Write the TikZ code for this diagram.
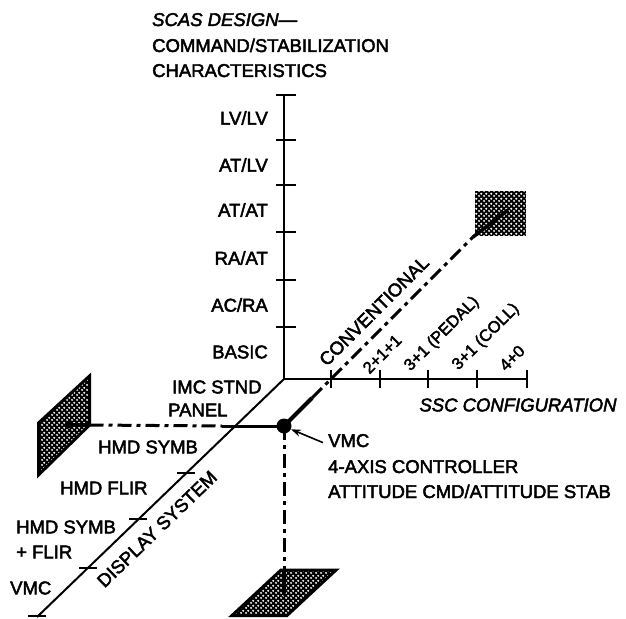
\documentclass[tikz,border=0pt]{standalone}
\usepackage{fontspec}
\setmainfont{Liberation Sans}[UprightFeatures={FakeBold=2.5}, ItalicFeatures={FakeBold=2.5}]
\usetikzlibrary{arrows.meta,patterns}
\pgfdeclarepatternformonly{halftone}{\pgfqpoint{0pt}{0pt}}{\pgfqpoint{4.6pt}{4.6pt}}{\pgfqpoint{4.6pt}{4.6pt}}{%
  \pgfpathcircle{\pgfqpoint{1.15pt}{1.15pt}}{1.15pt}%
  \pgfpathcircle{\pgfqpoint{3.45pt}{3.45pt}}{1.15pt}%
  \pgfusepath{fill}}
\begin{document}
\begin{tikzpicture}[x=1pt,y=-1pt,
  lab/.style={inner sep=0pt, font=\fontsize{18.5}{25}\selectfont},
  smalllab/.style={inner sep=0pt, font=\fontsize{16.5}{20}\selectfont},
  axisline/.style={line width=2.4pt},
  depthline/.style={line width=2pt},
  tickmark/.style={line width=2pt},
  ddash/.style={line width=3pt, dash pattern=on 14pt off 5pt on 4pt off 5pt},
  solidseg/.style={line width=4pt},
  intip/.style={line width=3.5pt, -{Triangle[length=8pt,width=6.5pt]}},
  hatchbox/.style={line width=3pt, line join=miter, preaction={fill=black}, preaction={pattern=halftone, pattern color=white}}
]
\useasboundingbox (0,0) rectangle (626,618);

% coordinates
\coordinate (O) at (284,379);
\coordinate (vtop) at (284,95);
\coordinate (xend) at (527,379);
\coordinate (dend) at (37,617);
\coordinate (conv) at (331,379);

% axes
\draw[axisline] (vtop) -- (O) -- (xend);
\draw[depthline] (O) -- (dend);

% vertical ticks
\foreach \yy in {95,140,185,232,280,327}
  \draw[tickmark] (276,\yy) -- (296,\yy);
% horizontal ticks
\foreach \xx in {331,380,428,477,527}
  \draw[tickmark] (\xx,370) -- (\xx,388);
% depth ticks
\foreach \px/\py in {233/427,186/473,138/519,88/568,37/616}
  \draw[tickmark] (\px-9,\py) -- (\px+9,\py);

% boxes
\node[hatchbox, minimum width=51pt, minimum height=45pt, inner sep=0pt] (boxTR) at (500,213) {};
\coordinate (L1) at (89.5,376);
\coordinate (L2) at (89.5,425);
\coordinate (L3) at (38.5,475);
\coordinate (L4) at (38.5,423);
\draw[hatchbox] (L1) -- (L2) -- (L3) -- (L4) -- cycle;
\coordinate (B1) at (281,570);
\coordinate (B2) at (336,570);
\coordinate (B3) at (287,615.5);
\coordinate (B4) at (232,615.5);
\draw[hatchbox] (B1) -- (B2) -- (B3) -- (B4) -- cycle;

% VMC dot
\node[circle, fill=black, minimum size=15pt, inner sep=0pt] (dot) at (284,426) {};

% dash-dot connectors
\coordinate (hsolid) at (222,426);
\coordinate (dsolid) at (312,398);
\coordinate (vbox) at (284,570);
\coordinate (Ltip) at (62,425);
\coordinate (TRtip) at (508,210);
\coordinate (Btip) at (284,597);
\draw[ddash] (L2) -- (hsolid);
\draw[line width=3pt] (hsolid) -- (dot.center);
\draw[intip] (L2) -- (Ltip);
\draw[solidseg] (dot.center) -- (dsolid);
\draw[ddash] (dsolid) -- (boxTR.south west);
\draw[line width=3.5pt] (boxTR.south west) -- (TRtip);
\draw[ddash] (dot.center) -- (vbox);
\draw[intip] (vbox) -- (Btip);

% title
\node[lab, anchor=base west] (t1) at (152,26) {\itshape SCAS DESIGN—};
\node[lab, anchor=base west] (t2) at (152,52) {COMMAND/STABILIZATION};
\node[lab, anchor=base west] (t3) at (152,77) {CHARACTERISTICS};

% vertical axis labels
\node[lab, anchor=east] (v1) at (268,118) {LV/LV};
\node[lab, anchor=east] (v2) at (268,165) {AT/LV};
\node[lab, anchor=east] (v3) at (268,210) {AT/AT};
\node[lab, anchor=east] (v4) at (268,258) {RA/AT};
\node[lab, anchor=east] (v5) at (268,305) {AC/RA};
\node[lab, anchor=east] (v6) at (268,352) {BASIC};

% horizontal axis labels
\node[lab, rotate=45] (conl) at (374,311) {CONVENTIONAL};
\node[smalllab, rotate=45] (h1) at (382,354) {2+1+1};
\node[smalllab, rotate=45] (h2) at (442,334) {3+1 (PEDAL)};
\node[smalllab, rotate=45] (h3) at (486,337) {3+1 (COLL)};
\node[smalllab, rotate=45] (h4) at (512,358) {4+0};
\node[lab] (ssc) at (518,405) {\itshape SSC CONFIGURATION};

% depth axis labels
\node[lab, anchor=west] (d1a) at (172,387) {IMC STND};
\node[lab, anchor=west] (d1b) at (168,410) {PANEL};
\node[lab, anchor=west] (d2) at (98,447) {HMD SYMB};
\node[lab, anchor=west] (d3) at (60,488) {HMD FLIR};
\node[lab, anchor=west] (d4a) at (16,527) {HMD SYMB};
\node[lab, anchor=west] (d4b) at (16,552) {+ FLIR};
\node[lab, anchor=west] (d5) at (10,588) {VMC};
\node[lab, rotate=44] (disp) at (157,529) {DISPLAY SYSTEM};

% VMC annotation
\node[lab, anchor=base west] (vmc1) at (328,447) {VMC};
\node[lab, anchor=base west] (vmc2) at (328,473) {4-AXIS CONTROLLER};
\node[lab, anchor=base west] (vmc3) at (328,498) {ATTITUDE CMD/ATTITUDE STAB};
\draw[line width=1.6pt, -{Stealth[length=10pt,width=7pt]}] ([xshift=-5pt,yshift=-2pt]vmc1.west) -- (dot.-25);
\end{tikzpicture}
\end{document}
